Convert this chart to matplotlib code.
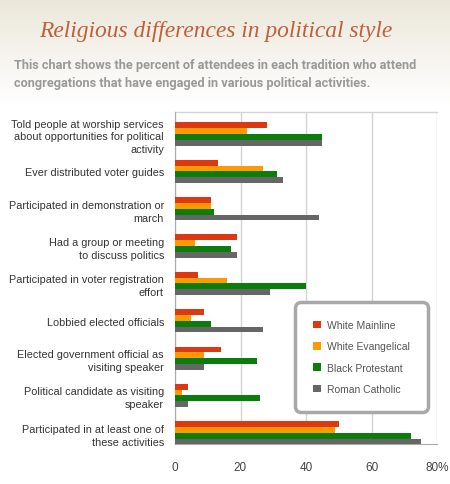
import numpy as np
import matplotlib
matplotlib.use("Agg")
import matplotlib.pyplot as plt
from matplotlib.patches import Patch

categories = [
    "Told people at worship services\nabout opportunities for political\nactivity",
    "Ever distributed voter guides",
    "Participated in demonstration or\nmarch",
    "Had a group or meeting\nto discuss politics",
    "Participated in voter registration\neffort",
    "Lobbied elected officials",
    "Elected government official as\nvisiting speaker",
    "Political candidate as visiting\nspeaker",
    "Participated in at least one of\nthese activities",
]
series_names = ["White Mainline", "White Evangelical", "Black Protestant", "Roman Catholic"]
white_mainline = [28, 13, 11, 19, 7, 9, 14, 4, 50]
white_evangelical = [22, 27, 11, 6, 16, 5, 9, 2, 49]
black_protestant = [45, 31, 12, 17, 40, 11, 25, 26, 72]
roman_catholic = [45, 33, 44, 19, 29, 27, 9, 4, 75]
x_ticks = [0, 20, 40, 60, 80]
x_ticklabels = ["0", "20", "40", "60", "80%"]

colors = ["#dc3912", "#ff9900", "#0a7d0a", "#666666"]
series = [white_mainline, white_evangelical, black_protestant, roman_catholic]

W, H = 450, 485
fig = plt.figure(figsize=(W / 100, H / 100), dpi=100)

# header gradient background
bg = fig.add_axes([0, 0, 1, 1], zorder=-10)
grad = np.ones((H, 1, 3))
top = np.array([0xeb, 0xe7, 0xda]) / 255.0
for i in range(H):
    t = min(i / 105.0, 1.0)
    grad[i, 0, :] = top * (1 - t) + np.ones(3) * t
bg.imshow(grad, aspect="auto", extent=[0, 1, 0, 1])
bg.axis("off")

fig.text(216 / W, 1 - 31 / H, "Religious differences in political style",
         ha="center", va="center", fontsize=16.9, style="italic",
         family=["Liberation Serif", "DejaVu Serif"], color="#c0603a")
sub_font = dict(ha="left", va="center", fontsize=9.15, fontweight="bold",
                family=["Roboto", "Liberation Sans"], color="#999999")
fig.text(14 / W, 1 - 66 / H,
         "This chart shows the percent of attendees in each tradition who attend",
         **sub_font)
fig.text(14 / W, 1 - 83 / H,
         "congregations that have engaged in various political activities.",
         **sub_font)

ax = fig.add_axes([175 / W, 1 - 445 / H, (437 - 175) / W, (445 - 113) / H])
ax.set_facecolor("white")

n = len(categories)
ypos = np.arange(n)
bar_h = 0.155
for k, (name, vals) in enumerate(zip(series_names, series)):
    offs = (k - 1.5) * bar_h
    ax.barh(ypos + offs, vals, height=bar_h, color=colors[k], label=name,
            edgecolor="none", zorder=3)

ax.set_xlim(0, 80)
ax.set_ylim(8.3, -0.59)
ax.set_xticks(x_ticks)
ax.set_xticklabels(x_ticklabels, fontsize=8.5, color="#444444",
                   family="Liberation Sans")
ax.set_yticks(ypos)
ax.set_yticklabels(categories, fontsize=7.8, color="#333333",
                   family="Liberation Sans", linespacing=1.35)
ax.tick_params(axis="both", length=0)
ax.tick_params(axis="y", pad=8)
ax.tick_params(axis="x", pad=12)
ax.grid(axis="x", color="#d4d4d4", linewidth=1, zorder=0)
for s in ["top", "right"]:
    ax.spines[s].set_visible(False)
ax.spines["left"].set_color("#aaaaaa")
ax.spines["bottom"].set_color("#aaaaaa")
ax.plot([0, 80], [-0.59, -0.59], color="#d4d4d4", lw=1, clip_on=False, zorder=1)

handles = [Patch(facecolor=c, label=nm) for c, nm in zip(colors, series_names)]
leg = fig.legend(handles=handles, loc="upper left",
                 bbox_to_anchor=(295 / W, 1 - 303 / H),
                 bbox_transform=fig.transFigure,
                 fontsize=7.5, labelcolor="#555555", frameon=True,
                 handlelength=0.75, handleheight=0.75, handletextpad=0.6,
                 labelspacing=1.08, borderpad=1.75, borderaxespad=0)
for t in leg.get_texts():
    t.set_family("Liberation Sans")
fr = leg.get_frame()
fr.set_boxstyle("round,pad=0.0,rounding_size=0.6")
fr.set_edgecolor("#a8a8a8")
fr.set_linewidth(2.5)
fr.set_facecolor("white")
fr.set_alpha(1)

fig.savefig("out.png", dpi=100)
